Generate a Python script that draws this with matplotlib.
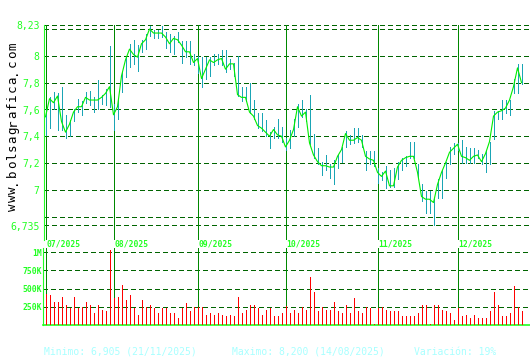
import matplotlib
matplotlib.use("Agg")
import matplotlib.pyplot as plt
import matplotlib.transforms as mtransforms
import pandas as pd
import numpy as np

# ---------------- data ----------------
dates = pd.bdate_range("2025-07-09", "2025-12-23")

close = [7.545, 7.68, 7.65, 7.70, 7.51, 7.43, 7.49, 7.58, 7.62, 7.62,
         7.69, 7.67, 7.67, 7.67, 7.69, 7.72, 7.77, 7.56, 7.62, 7.85,
         7.97, 8.05, 8.01, 7.99, 8.09, 8.12, 8.20, 8.17, 8.17, 8.17,
         8.14, 8.09, 8.13, 8.12, 8.08, 8.03, 8.03, 7.95, 7.98, 7.83,
         7.90, 7.97, 7.95, 7.97, 7.98, 7.90, 7.94, 7.94, 7.71, 7.69,
         7.69, 7.58, 7.55, 7.48, 7.46, 7.43, 7.40, 7.45, 7.41, 7.40,
         7.32, 7.37, 7.45, 7.62, 7.55, 7.58, 7.35, 7.26, 7.21, 7.18,
         7.18, 7.17, 7.17, 7.25, 7.30, 7.42, 7.37, 7.37, 7.39, 7.37,
         7.25, 7.23, 7.22, 7.13, 7.10, 7.14, 7.03, 7.03, 7.17, 7.22,
         7.24, 7.25, 7.25, 7.13, 6.95, 6.93, 6.93, 6.905, 7.04, 7.13,
         7.20, 7.28, 7.31, 7.34, 7.25, 7.24, 7.22, 7.25, 7.26, 7.21,
         7.27, 7.36, 7.55, 7.58, 7.59, 7.61, 7.67, 7.77, 7.91, 7.80]

high = [7.60, 7.69, 7.73, 7.72, 7.77, 7.56, 7.52, 7.60, 7.68, 7.66,
        7.73, 7.74, 7.69, 7.82, 7.71, 7.75, 8.07, 7.64, 7.67, 7.88,
        7.99, 8.09, 8.12, 8.08, 8.12, 8.16, 8.22, 8.19, 8.19, 8.225,
        8.18, 8.16, 8.15, 8.18, 8.11, 8.11, 8.11, 8.01, 8.00, 7.99,
        7.99, 7.99, 8.01, 8.01, 8.04, 8.04, 7.98, 7.95, 8.00, 7.77,
        7.77, 7.80, 7.67, 7.57, 7.57, 7.52, 7.43, 7.47, 7.53, 7.47,
        7.39, 7.45, 7.53, 7.64, 7.67, 7.60, 7.71, 7.42, 7.31, 7.21,
        7.26, 7.19, 7.22, 7.26, 7.32, 7.44, 7.41, 7.46, 7.46, 7.41,
        7.29, 7.29, 7.29, 7.16, 7.13, 7.18, 7.15, 7.16, 7.21, 7.24,
        7.25, 7.36, 7.36, 7.19, 7.04, 6.99, 6.99, 6.93, 7.08, 7.15,
        7.21, 7.32, 7.35, 7.35, 7.37, 7.32, 7.31, 7.31, 7.30, 7.27,
        7.30, 7.36, 7.59, 7.59, 7.67, 7.67, 7.67, 7.83, 7.94, 7.94]

low = [7.41, 7.46, 7.60, 7.45, 7.45, 7.39, 7.40, 7.51, 7.58, 7.56,
       7.65, 7.63, 7.58, 7.60, 7.64, 7.63, 7.62, 7.45, 7.53, 7.73,
       7.84, 7.92, 7.94, 7.89, 8.03, 8.05, 8.15, 8.13, 8.13, 8.14,
       8.06, 8.03, 8.01, 8.10, 7.95, 7.99, 7.94, 7.93, 7.87, 7.77,
       7.83, 7.85, 7.93, 7.94, 7.93, 7.88, 7.90, 7.85, 7.70, 7.66,
       7.66, 7.57, 7.53, 7.46, 7.44, 7.40, 7.31, 7.39, 7.39, 7.36,
       7.30, 7.31, 7.40, 7.47, 7.54, 7.51, 7.34, 7.24, 7.19, 7.11,
       7.15, 7.09, 7.04, 7.16, 7.21, 7.32, 7.34, 7.35, 7.36, 7.32,
       7.15, 7.19, 7.18, 7.05, 7.07, 7.01, 7.02, 7.02, 7.08, 7.15,
       7.18, 7.24, 7.24, 7.09, 6.92, 6.83, 6.83, 6.74, 6.94, 6.94,
       7.09, 7.19, 7.27, 7.30, 7.20, 7.20, 7.20, 7.20, 7.24, 7.19,
       7.13, 7.19, 7.38, 7.53, 7.53, 7.57, 7.56, 7.72, 7.72, 7.79]

volume = [420, 410, 310, 310, 380, 280, 240, 390, 230, 250,
          320, 270, 160, 270, 200, 190, 1030, 370, 380, 550,
          350, 410, 240, 140, 340, 250, 280, 240, 160, 230,
          240, 160, 160, 90, 230, 300, 190, 250, 250, 250,
          140, 160, 140, 170, 140, 130, 140, 120, 380, 170,
          210, 280, 280, 230, 140, 210, 240, 120, 130, 170,
          260, 160, 210, 170, 250, 200, 660, 450, 190, 250,
          210, 200, 320, 190, 160, 270, 170, 370, 190, 170,
          250, 230, 10, 240, 250, 200, 190, 190, 190, 130,
          130, 130, 130, 160, 270, 280, 10, 270, 280, 210,
          190, 160, 70, 240, 120, 140, 90, 140, 100, 100,
          100, 190, 450, 270, 130, 130, 170, 530, 250, 190]  # thousands

price_grid = [8.23, 8.2, 8.0, 7.8, 7.6, 7.4, 7.2, 7.0, 6.8, 6.735]
price_ticks = [8.23, 8.0, 7.8, 7.6, 7.4, 7.2, 7.0, 6.735]
price_tick_labels = ["8,23", "8", "7,8", "7,6", "7,4", "7,2", "7", "6,735"]
vol_ticks = [250, 500, 750, 1000]
vol_tick_labels = ["250K", "500K", "750K", "1M"]
footer = ["Minimo: 6,905 (21/11/2025)", "Maximo: 8,200 (14/08/2025)", "Variación: 19%"]
watermark = "www.bolsagrafica.com"

# ---------------- style ----------------
W, H = 530, 360
MONO = "DejaVu Sans Mono"
BRIGHT = "#22ff22"
LINEGREEN = "#00ee00"
TEAL = "#1aa5b5"
GRID = "#006400"
MONTH = "#008800"

def fx(px):
    return px / W

def fy(py):
    return 1 - py / H

x = np.arange(len(dates))
PX0, PXSTEP = 45.5, 4.0

fig = plt.figure(figsize=(W / 100, H / 100), dpi=100)
fig.patch.set_facecolor("white")

# price axes: pixels left 44, right 530, top 25, bottom 240
pl, pr, pt, pb = 44, 530, 25, 240
axp = fig.add_axes([fx(pl), fy(pb), fx(pr - pl), (pb - pt) / H])
axp.set_xlim((pl - PX0) / PXSTEP, (pr - PX0) / PXSTEP)
ppu = 134.0
axp.set_ylim(8.23 - (pb - pt) / ppu, 8.23)

# volume axes: left 43, right 530, top 248, bottom 325
vl, vr, vt, vb = 43, 530, 248, 325
axv = fig.add_axes([fx(vl), fy(vb), fx(vr - vl), (vb - vt) / H])
axv.set_xlim((vl - PX0) / PXSTEP, (vr - PX0) / PXSTEP)
vpm = 72.7  # px per 1000K
axv.set_ylim(0, (vb - vt) / vpm * 1000)

for ax in (axp, axv):
    ax.set_facecolor("white")
    for s in ax.spines.values():
        s.set_visible(False)
    ax.set_xticks([])
    ax.set_yticks([])

axp.spines["left"].set_visible(True)
axp.spines["left"].set_color(BRIGHT)
axp.spines["left"].set_linewidth(0.8)
axv.spines["left"].set_visible(True)
axv.spines["left"].set_color(BRIGHT)
axv.spines["left"].set_linewidth(0.8)
axv.spines["bottom"].set_visible(True)
axv.spines["bottom"].set_color(BRIGHT)
axv.spines["bottom"].set_linewidth(1.2)

dash = (0, (5, 3))
for g in price_grid:
    axp.axhline(g, color=GRID, lw=0.72, linestyle=dash, zorder=1, antialiased=False)
for g in vol_ticks:
    axv.axhline(g, color=GRID, lw=0.72, linestyle=dash, zorder=1, antialiased=False)

# month separators
month_idx = [0] + [i for i in range(1, len(dates)) if dates[i].month != dates[i - 1].month]
trans = mtransforms.blended_transform_factory(axp.transData, axp.transAxes)
for i in month_idx:
    axp.axvline(x[i], color=MONTH, lw=0.72, zorder=2, antialiased=False)
    axv.axvline(x[i], color=MONTH, lw=0.72, zorder=2, antialiased=False)
    axp.text(x[i] + 0.15, -4.2 / (pb - pt), dates[i].strftime("%m/%Y"), transform=trans,
             ha="left", va="center", fontsize=5.8, fontweight="bold",
             family=MONO, color=BRIGHT, clip_on=False)

# price bars and close line
axp.vlines(x, low, high, color=TEAL, lw=0.65, zorder=3, antialiased=False)
axp.plot(x, close, color=LINEGREEN, lw=0.8, zorder=4)

# volume bars
axv.vlines(x, 0, volume, color="#ff0000", lw=0.6, zorder=3, antialiased=False)

# price tick labels
tp = mtransforms.blended_transform_factory(fig.transFigure, axp.transData)
for v, lab in zip(price_ticks, price_tick_labels):
    axp.text(fx(39.5), v - 1.2 / ppu, lab, transform=tp, ha="right", va="center",
             fontsize=7, family=MONO, color=BRIGHT, clip_on=False)

tv = mtransforms.blended_transform_factory(fig.transFigure, axv.transData)
for v, lab in zip(vol_ticks, vol_tick_labels):
    axv.text(fx(42), v - 1.0 / vpm * 1000, lab, transform=tv, ha="right", va="center",
             fontsize=5.8, fontweight="bold", family=MONO, color=BRIGHT, clip_on=False)

# watermark, rotated, one character per slot
top_c, bot_c = 46.0, 207.0
step = (bot_c - top_c) / (len(watermark) - 1)
for k, ch in enumerate(watermark):
    fig.text(fx(12.5), fy(bot_c - k * step), ch, rotation=90, ha="center", va="center",
             fontsize=9, family=MONO, color="black")

# footer
for px, txt in zip([44, 232, 414], footer):
    fig.text(fx(px), fy(352), txt, ha="left", va="center", fontsize=7,
             family=MONO, color="#a8ffff")

fig.savefig("out.png", dpi=100, facecolor="white")
